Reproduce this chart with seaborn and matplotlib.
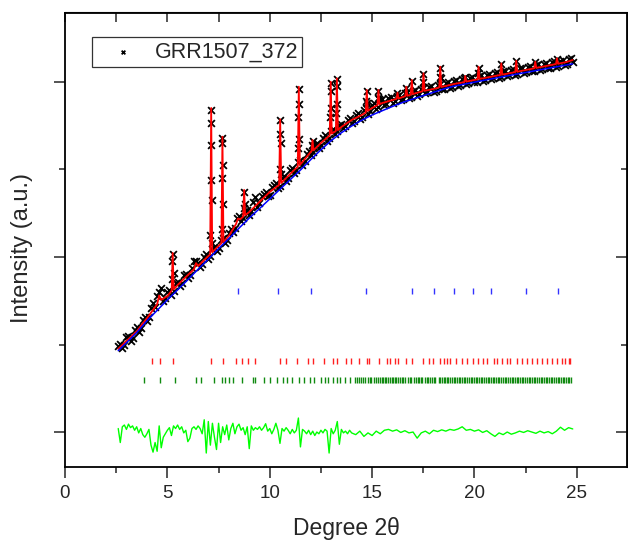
import numpy as np
import matplotlib
matplotlib.use("Agg")
import matplotlib.pyplot as plt
import seaborn as sns
from matplotlib.ticker import MultipleLocator, FixedLocator, NullFormatter

sns.set_style("ticks")
plt.rcParams['font.family'] = ['Liberation Sans', 'DejaVu Sans']

# observed profile, sampled every 0.2 deg from 2.6 to 24.8
band_start, band_step = 2.6, 0.2
obs_band = [985, 955, 1085, 1045, 1170, 1140, 1285, 1265, 1420, 1430,
            1600, 1500, 1595, 1570, 1700, 1665, 1790, 1755, 1875, 1950,
            1890, 2005, 1975, 2095, 2070, 2190, 2160, 2275, 2285, 2450,
            2410, 2520, 2480, 2630, 2575, 2695, 2745, 2710, 2820, 2785,
            2900, 2865, 2990, 2960, 3080, 3055, 3180, 3165, 3280, 3250,
            3360, 3330, 3440, 3410, 3505, 3470, 3570, 3535, 3625, 3580,
            3675, 3635, 3740, 3695, 3790, 3735, 3815, 3765, 3845, 3790,
            3870, 3820, 3895, 3845, 3925, 3870, 3945, 3890, 3965, 3915,
            3990, 3935, 4010, 3955, 4030, 3975, 4045, 3995, 4065, 4010,
            4085, 4030, 4100, 4045, 4120, 4065, 4140, 4085, 4155, 4100,
            4175, 4120, 4190, 4140, 4210, 4160, 4230, 4175, 4245, 4195,
            4265, 4230]
# observed profile in between, every 0.2 deg from 2.7 to 24.7
mid_start = 2.7
obs_mid = [1010, 990, 1100, 1080, 1195, 1185, 1310, 1315, 1470, 1560,
           1650, 1530, 1620, 1610, 1720, 1700, 1810, 1790, 1960, 1930,
           1925, 2030, 2010, 2120, 2105, 2215, 2195, 2320, 2330, 2470,
           2440, 2540, 2520, 2680, 2615, 2720, 2700, 2805, 2840, 2815,
           2925, 2905, 3015, 2995, 3110, 3095, 3215, 3200, 3305, 3285,
           3390, 3365, 3465, 3435, 3525, 3500, 3590, 3555, 3640, 3600,
           3700, 3665, 3755, 3710, 3800, 3750, 3825, 3780, 3855, 3805,
           3880, 3830, 3910, 3860, 3935, 3880, 3955, 3900, 3980, 3925,
           4000, 3945, 4020, 3965, 4040, 3985, 4055, 4005, 4075, 4020,
           4090, 4040, 4110, 4055, 4130, 4075, 4145, 4095, 4165, 4110,
           4185, 4130, 4200, 4150, 4220, 4165, 4240, 4185, 4255, 4205,
           4270]

# observed points on the Bragg peaks
obs_peak_tth = [5.22, 5.25, 5.27, 5.30,
                7.10, 7.12, 7.13, 7.14, 7.15, 7.16, 7.18,
                7.65, 7.67, 7.68, 7.69, 7.70, 7.72,
                8.72, 8.75, 8.78,
                10.48, 10.50, 10.51, 10.53, 10.55,
                11.38, 11.40, 11.42, 11.43, 11.45,
                12.06, 12.09, 12.12,
                12.95, 12.97, 12.98, 13.00,
                13.25, 13.27, 13.28, 13.30,
                14.71, 14.74, 14.77,
                15.28, 15.31, 15.34,
                16.24, 16.67, 16.94,
                17.49, 17.51,
                18.31, 18.33, 18.35,
                19.55, 20.18, 20.20, 21.31, 22.04, 22.97, 24.03]
obs_peak_int = [1750, 1960, 2030, 1820,
                2250, 2880, 3530, 3680, 3280, 2650, 2160,
                2320, 2900, 3300, 3360, 3050, 2600,
                2560, 2740, 2600,
                3000, 3400, 3560, 3300, 2950,
                3250, 3600, 3920, 3750, 3350,
                3280, 3330, 3270,
                3600, 3900, 3990, 3700,
                3650, 3950, 4030, 3750,
                3780, 3900, 3760,
                3820, 3900, 3800,
                3870, 3935, 4010,
                4000, 4090,
                4060, 4165, 4040,
                4060, 4100, 4165, 4205, 4235, 4225, 4265]

# calculated profile
calc_tth = [2.6, 3.0, 3.5, 4.0, 4.5, 4.6, 4.7, 5.0, 5.21, 5.26, 5.31, 5.5, 6.0,
            6.3, 6.4, 6.5, 7.0, 7.09, 7.14, 7.19, 7.5, 7.64, 7.69, 7.74, 8.0,
            8.35, 8.45, 8.55, 8.7, 8.75, 8.8, 9.0, 9.5, 10.0, 10.46, 10.51,
            10.56, 11.0, 11.37, 11.42, 11.47, 12.0, 12.04, 12.09, 12.14, 12.5,
            12.93, 12.98, 13.03, 13.23, 13.28, 13.33, 13.5, 14.0, 14.5, 14.69,
            14.74, 14.79, 15.0, 15.26, 15.31, 15.36, 15.5, 16.0, 16.19, 16.24,
            16.29, 16.5, 16.62, 16.67, 16.72, 16.89, 16.94, 16.99, 17.46,
            17.51, 17.56, 18.0, 18.28, 18.33, 18.38, 19.0, 19.5, 19.55, 19.6,
            20.15, 20.2, 20.25, 20.5, 21.0, 21.26, 21.31, 21.36, 21.99, 22.04,
            22.09, 22.5, 22.92, 22.97, 23.02, 23.5, 23.98, 24.03, 24.08, 24.5,
            24.8]
calc_int = [950, 1040, 1150, 1300, 1460, 1560, 1510, 1554, 1615, 2046, 1630, 1680, 1794,
            1860, 1930, 1897, 2011, 2030, 3703, 2055, 2126, 2158, 3375, 2170, 2240,
            2375, 2440, 2430, 2460, 2766, 2477, 2514, 2629, 2743, 2825, 3574,
            2845, 2949, 3033, 3946, 3050, 3200, 3208, 3337, 3220, 3303,
            3390, 4003, 3410, 3440, 4042, 3450, 3486, 3566, 3623, 3650,
            3909, 3670, 3703, 3735, 3909, 3745, 3760, 3794, 3807, 3878,
            3811, 3829, 3837, 3946, 3842, 3855, 4023, 3862, 3894,
            4099, 3899, 3920, 3939, 4175, 3943, 3977, 3998, 4069, 4005,
            4030, 4175, 4035, 4046, 4069, 4080, 4213, 4084, 4113, 4243,
            4117, 4137, 4156, 4232, 4161, 4183, 4205, 4271, 4208, 4229,
            4251]

# background
bkg_tth = [2.6, 3.0, 3.5, 4.0, 4.5, 5.0, 5.5, 6.0, 6.5, 7.0, 7.5, 8.0, 8.5, 9.0,
           9.5, 10.0, 10.5, 11.0, 11.5, 12.0, 12.5, 13.0, 13.5, 14.0, 14.5, 15.0,
           15.5, 16.0, 16.5, 17.0, 17.5, 18.0, 18.5, 19.0, 20.0, 21.0, 22.0, 23.0,
           24.0, 24.8]
bkg_int = [930, 1020, 1135, 1270, 1390, 1510, 1625, 1740, 1860, 1975, 2095, 2210,
           2330, 2445, 2553, 2663, 2774, 2884, 2994, 3112, 3225, 3330, 3420, 3497,
           3564, 3623, 3672, 3721, 3767, 3806, 3844, 3882, 3920, 3952, 3998, 4043,
           4087, 4130, 4173, 4207]

# difference curve (obs - calc): 0.1 deg steps to 14.0, then 0.2 deg steps
diff_a = [40, -120, 60, 80, 30, 90, 50, 70, 20, 60,
          -10, 40, -30, -60, -20, 30, -150, -230, -120, -220,
          70, -180, -60, -20, 20, 50, -40, 70, 40, 80,
          30, 60, -10, 20, -110, -70, 40, 60, 30, 70,
          40, -20, 140, -240, 120, -150, 100, -60, -200, 100,
          -120, 60, -30, 80, -90, 40, 100, -20, 60, 90,
          20, 50, -30, 60, -190, 70, 20, 50, 30, 60,
          20, 50, 95, 10, 40, -20, 30, 100, 20, -130,
          40, 10, 50, 20, -20, 30, -10, 20, 160, -170,
          30, 10, -20, 20, -30, 10, -40, 0, -20, 20,
          -10, 30, 10, -240, 40, -20, 20, 120, -140, 30,
          -10, 10, -20, 20, -10]
diff_b = [-30, 10, -50, -10, -40, 10, -20, 20, 30, 10,
          25, -5, 15, -10, 0, -70, -10, 10, -20, 20,
          5, 25, 10, 30, 20, 35, 60, 20, 30, 10,
          25, -5, 15, -20, -50, -10, -30, 0, -25, -10,
          10, -5, 15, 0, -15, 10, -10, 5, -20, 10,
          55, 20, 50, 35]

# reflection positions of the three phases
ticks_blue = [8.47, 10.38, 12.02, 14.70, 16.96, 18.0, 19.01, 19.91, 20.82, 22.5, 24.1]
ticks_red = [4.24, 4.66, 5.26, 7.14, 7.71, 8.36, 8.63, 8.96, 9.30, 10.51, 10.79,
             11.32, 11.86, 12.09, 12.63, 13.07, 13.28, 13.72, 13.96, 14.34, 14.74,
             14.84, 15.36, 15.75, 15.88, 16.13, 16.26, 16.67, 16.94, 17.48, 17.76,
             17.95, 18.33, 18.49, 18.65, 18.82, 19.11, 19.39, 19.63, 19.91, 20.17,
             20.40, 20.61, 20.93, 21.10, 21.34, 21.59, 21.75, 22.08, 22.32, 22.57,
             22.81, 23.05, 23.30, 23.54, 23.79, 24.03, 24.28, 24.44, 24.60, 24.68]
ticks_green = [3.88, 4.66, 5.39, 6.39, 6.65, 7.30, 7.66, 7.82, 8.03, 8.20, 8.63,
               9.16, 9.30, 9.74, 9.99, 10.35, 10.67, 10.83, 11.11, 11.44, 11.65,
               11.97, 12.14, 12.51, 12.71, 12.87, 13.11, 13.28, 13.44, 13.69, 13.93,
               14.17, 14.28, 14.36, 14.47, 14.55, 14.63, 14.80, 14.88, 14.97, 15.08,
               15.20, 15.27, 15.38, 15.46, 15.55, 15.62, 15.70, 15.79, 15.86, 15.95,
               16.03, 16.12, 16.19, 16.28, 16.37, 16.45, 16.52, 16.60, 16.76, 16.83,
               16.91, 17.05, 17.13, 17.22, 17.30, 17.37, 17.46, 17.58, 17.66, 17.75,
               17.84, 17.92, 18.00, 18.09, 18.25, 18.34, 18.41, 18.50, 18.58, 18.66,
               18.73, 18.82, 18.90, 18.98, 19.07, 19.15, 19.22, 19.31, 19.40, 19.47,
               19.56, 19.64, 19.72, 19.81, 19.89, 19.97, 20.06, 20.14, 20.22, 20.31,
               20.39, 20.47, 20.56, 20.64, 20.72, 20.80, 20.89, 20.97, 21.06, 21.14,
               21.22, 21.31, 21.39, 21.47, 21.56, 21.64, 21.73, 21.81, 21.89, 21.98,
               22.06, 22.14, 22.23, 22.31, 22.39, 22.48, 22.56, 22.64, 22.73, 22.81,
               22.89, 22.98, 23.06, 23.14, 23.23, 23.31, 23.39, 23.48, 23.56, 23.64,
               23.73, 23.81, 23.89, 23.98, 24.06, 24.14, 24.23, 24.31, 24.39, 24.48,
               24.56, 24.64, 24.72]
tick_levels = {"blue": 1606, "red": 806, "green": 600}

fig = plt.figure(figsize=(6.28, 5.41), dpi=100)
ax = fig.add_axes([65 / 628, 74.5 / 541, 562 / 628, 454 / 541])

band_tth = np.round(band_start + band_step * np.arange(len(obs_band)), 2)
mid_tth = np.round(mid_start + band_step * np.arange(len(obs_mid)), 2)
obs_tth = np.concatenate([band_tth, mid_tth, obs_peak_tth])
obs_int = np.concatenate([obs_band, obs_mid, obs_peak_int])
order = np.argsort(obs_tth)

sns.scatterplot(x=obs_tth[order], y=obs_int[order], marker='x', s=24, color='black',
                linewidth=1.3, label='GRR1507_372', ax=ax, zorder=2)
sns.lineplot(x=calc_tth, y=calc_int, color='red', lw=1.3, estimator=None, sort=False,
             ax=ax, zorder=3)
sns.lineplot(x=bkg_tth, y=bkg_int, color='blue', lw=1.1, estimator=None, sort=False,
             ax=ax, zorder=4)

diff_tth = np.concatenate([2.6 + 0.1 * np.arange(len(diff_a)),
                           14.2 + 0.2 * np.arange(len(diff_b))])
diff_int = np.concatenate([diff_a, diff_b])
sns.lineplot(x=diff_tth, y=diff_int, color='#00ff00', lw=1.0, estimator=None, sort=False,
             ax=ax, zorder=3)

for pos, col, key in [(ticks_blue, '#3333ff', 'blue'), (ticks_red, '#ff2020', 'red'),
                      (ticks_green, '#108a10', 'green')]:
    sns.scatterplot(x=pos, y=[tick_levels[key]] * len(pos), marker='|', s=16,
                    color=col, linewidth=1.0, ax=ax, legend=False, zorder=2)

ax.set_xlim(0, 27.45)
ax.set_ylim(-394, 4794)
ax.xaxis.set_major_locator(MultipleLocator(5))
ax.xaxis.set_minor_locator(MultipleLocator(2.5))
ax.yaxis.set_major_locator(FixedLocator([0, 2000, 4000]))
ax.yaxis.set_minor_locator(FixedLocator([1000, 3000]))
ax.yaxis.set_major_formatter(NullFormatter())
ax.tick_params(which='major', direction='out', length=8, width=1.1, labelsize=13.5, pad=5)
ax.tick_params(which='minor', direction='out', length=4.5, width=1.1)
ax.set_xlabel('')
ax.set_ylabel('')
for sp in ax.spines.values():
    sp.set_linewidth(1.3)
    sp.set_color('black')

secx = ax.secondary_xaxis('top')
secx.xaxis.set_major_locator(MultipleLocator(2.5))
secx.tick_params(direction='in', length=7, width=1.1, labeltop=False)
secy = ax.secondary_yaxis('right')
secy.yaxis.set_major_locator(FixedLocator([0, 2000, 4000]))
secy.yaxis.set_minor_locator(FixedLocator([1000, 3000]))
secy.tick_params(which='major', direction='in', length=8, width=1.1, labelright=False)
secy.tick_params(which='minor', direction='in', length=4.5, width=1.1)

fig.text(22.5 / 628, 1 - 248 / 541, 'Intensity (a.u.)', rotation=90, ha='center',
         va='center', fontsize=17)
fig.text(346 / 628, 1 - 528 / 541, 'Degree 2\u03b8', ha='center', va='center', fontsize=16.5)

leg = ax.legend(loc='upper left', bbox_to_anchor=(0.048, 0.946), borderaxespad=0,
                fontsize=15.5, frameon=True, fancybox=False, edgecolor='black',
                borderpad=0.2, handletextpad=0.2, handlelength=2.5, markerscale=0.55)
leg.get_frame().set_linewidth(0.9)

fig.savefig('out.png', dpi=100)
